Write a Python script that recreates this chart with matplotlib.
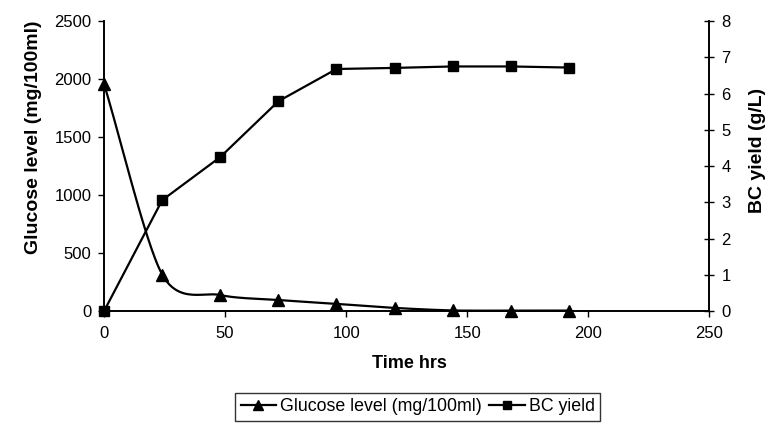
import numpy as np
import matplotlib.pyplot as plt

plt.rcParams['font.family'] = ['Liberation Sans', 'DejaVu Sans']

time_hrs = [0, 24, 48, 72, 96, 120, 144, 168, 192]
glucose = [1957, 315, 138, 95, 62, 27, 5, 4, 4]
bc_yield = [0.0, 3.06, 4.25, 5.79, 6.68, 6.71, 6.75, 6.75, 6.72]


def smooth(x, y, n=30, k=0.85):
    # catmull-rom style smoothing, like Excel's "smoothed line"
    x = np.asarray(x, float)
    y = np.asarray(y, float)
    px = np.concatenate([[2 * x[0] - x[1]], x, [2 * x[-1] - x[-2]]])
    py = np.concatenate([[2 * y[0] - y[1]], y, [2 * y[-1] - y[-2]]])
    xs, ys = [], []
    t = np.linspace(0, 1, n)
    for i in range(1, len(px) - 2):
        for p, out in ((px, xs), (py, ys)):
            p0, p1, p2, p3 = p[i - 1], p[i], p[i + 1], p[i + 2]
            m1 = k * (p2 - p0) / 2
            m2 = k * (p3 - p1) / 2
            h00 = 2 * t ** 3 - 3 * t ** 2 + 1
            h10 = t ** 3 - 2 * t ** 2 + t
            h01 = -2 * t ** 3 + 3 * t ** 2
            h11 = t ** 3 - t ** 2
            out.extend(h00 * p1 + h10 * m1 + h01 * p2 + h11 * m2)
    return xs, ys


fig, ax = plt.subplots(figsize=(7.71, 4.32), dpi=100)
fig.subplots_adjust(left=0.135, right=0.92, top=0.951, bottom=0.28)
ax2 = ax.twinx()

sx, sy = smooth(time_hrs, glucose)
ax.plot(sx, sy, color='black', lw=1.6, clip_on=False)
ax.plot(time_hrs, glucose, ls='none', marker='^', ms=8, color='black', clip_on=False)
ax2.plot(time_hrs, bc_yield, color='black', lw=1.6, marker='s', ms=7, clip_on=False)

ax.set_xlim(0, 250)
ax.set_ylim(0, 2500)
ax2.set_ylim(0, 8)
ax.set_xticks(range(0, 251, 50))
ax.set_yticks(range(0, 2501, 500))
ax2.set_yticks(range(0, 9))

for a in (ax, ax2):
    a.spines['top'].set_visible(False)
    for s in a.spines.values():
        s.set_linewidth(1.2)
    a.tick_params(labelsize=12, width=1, length=4)
ax.tick_params(axis='y', direction='out', pad=5)
ax.tick_params(axis='x', direction='out', pad=7)
ax2.tick_params(direction='inout', length=7.5, pad=5)

ax.set_xlabel('Time hrs', fontsize=13, fontweight='bold')
ax.xaxis.set_label_coords(0.505, -0.153)
ax.set_ylabel('Glucose level (mg/100ml)', fontsize=14, fontweight='bold')
ax.yaxis.set_label_coords(-0.103, 0.6)
ax2.set_ylabel('BC yield (g/L)', fontsize=14, fontweight='bold')
ax2.yaxis.set_label_coords(1.066, 0.555)

h1 = plt.Line2D([], [], color='black', lw=1.6, marker='^', ms=7)
h2 = plt.Line2D([], [], color='black', lw=1.6, marker='s', ms=6)
leg = fig.legend([h1, h2], ['Glucose level (mg/100ml)', 'BC yield'],
                 loc='center', bbox_to_anchor=(0.542, 0.058),
                 ncol=2, fontsize=12.75, frameon=True, fancybox=False,
                 edgecolor='black', handlelength=2.0, handletextpad=0.25,
                 columnspacing=0.4, borderpad=0.3, borderaxespad=0)
leg.get_frame().set_linewidth(1)

fig.savefig('out.png', dpi=100)
